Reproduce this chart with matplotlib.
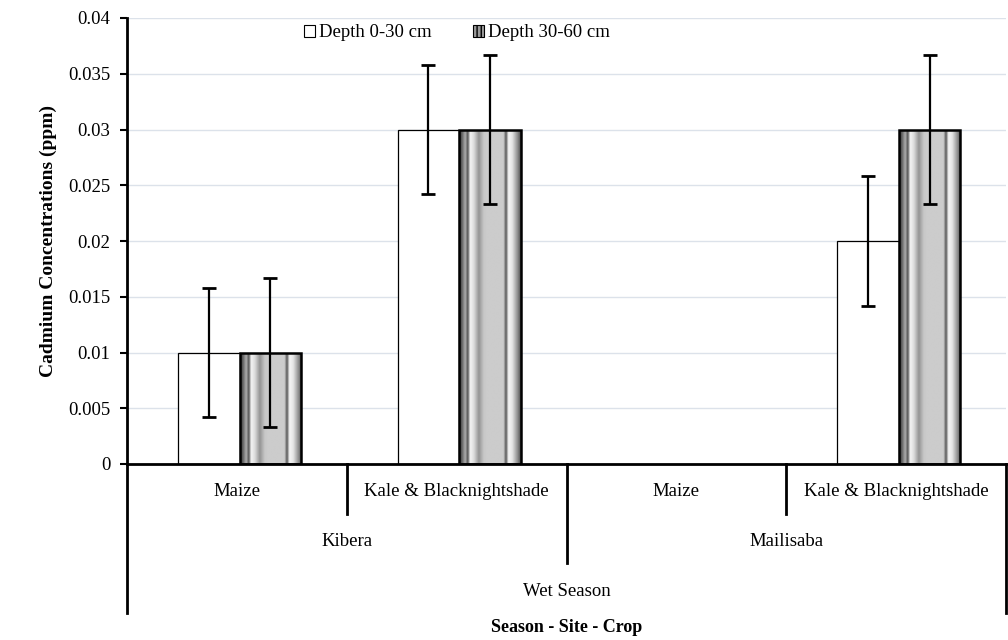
import numpy as np
import matplotlib
matplotlib.use("Agg")
import matplotlib.pyplot as plt
from matplotlib.patches import Rectangle
from matplotlib.ticker import FuncFormatter
from matplotlib.transforms import blended_transform_factory

plt.rcParams['font.family'] = ['Liberation Serif', 'DejaVu Serif']

# Data
crops = ["Maize", "Kale & Blacknightshade", "Maize", "Kale & Blacknightshade"]
sites = ["Kibera", "Mailisaba"]
season = "Wet Season"
series_names = ["Depth 0-30 cm", "Depth 30-60 cm"]
depth_0_30 = [0.01, 0.03, np.nan, 0.02]
depth_30_60 = [0.01, 0.03, np.nan, 0.03]
err_0_30 = [0.0058, 0.0058, np.nan, 0.0058]
err_30_60 = [0.0067, 0.0067, np.nan, 0.0067]
y_ticks = [0, 0.005, 0.01, 0.015, 0.02, 0.025, 0.03, 0.035, 0.04]

FS = 13.5

fig = plt.figure(figsize=(10.08, 6.4), dpi=100)
ax = fig.add_axes([127 / 1008, 1 - 464 / 640, 879 / 1008, 446 / 640])

x = np.arange(len(crops))
w = 0.28
shift = 0.012
x_a = x - w / 2 + shift
x_b = x + w / 2 + shift

# plain white bars
ax.bar(x_a, depth_0_30, width=w, facecolor="white", edgecolor="black",
       linewidth=0.9, zorder=3)

# striped (shaded cylinder look) bars
bars_b = ax.bar(x_b, depth_30_60, width=w, facecolor="none", edgecolor="black",
                linewidth=1.8, zorder=4)
prof_pts = np.array([
    [0.00, 0.25], [0.04, 0.35], [0.10, 0.68], [0.14, 0.32], [0.18, 0.96],
    [0.24, 0.86], [0.32, 0.58], [0.40, 0.78], [0.45, 0.80], [0.72, 0.80],
    [0.76, 0.33], [0.80, 0.96], [0.86, 0.90], [0.95, 0.55], [1.00, 0.30]])
u = np.linspace(0, 1, 200)
prof = np.interp(u, prof_pts[:, 0], prof_pts[:, 1])
img = np.tile(prof, (2, 1))
for rect in bars_b.patches:
    h = rect.get_height()
    if not np.isfinite(h) or h <= 0:
        continue
    x0 = rect.get_x()
    im = ax.imshow(img, cmap="gray", vmin=0, vmax=1, aspect="auto",
                   extent=(x0, x0 + rect.get_width(), 0, h), zorder=3.5,
                   interpolation="bilinear")
    clip = Rectangle((x0, 0), rect.get_width(), h, transform=ax.transData)
    im.set_clip_path(clip)

ax.errorbar(x_a, depth_0_30, yerr=err_0_30, fmt="none", ecolor="black",
            elinewidth=1.6, capsize=5, capthick=2, zorder=5)
ax.errorbar(x_b, depth_30_60, yerr=err_30_60, fmt="none", ecolor="black",
            elinewidth=1.6, capsize=5, capthick=2, zorder=5)

ax.set_xlim(-0.5, len(crops) - 0.5)
ax.set_ylim(0, 0.04)
ax.set_yticks(y_ticks)
ax.yaxis.set_major_formatter(FuncFormatter(lambda v, p: "%g" % v))
ax.yaxis.grid(True, color="#dce2ea", linewidth=1.0, zorder=0)
ax.set_axisbelow(True)
ax.set_xticks([])
ax.tick_params(axis="y", direction="out", length=5, width=1.5,
               labelsize=FS, pad=7)
for s in ["top", "right"]:
    ax.spines[s].set_visible(False)
ax.spines["left"].set_linewidth(2)
ax.spines["bottom"].set_linewidth(2)
ax.spines["bottom"].set_zorder(6)

ax.set_ylabel("Cadmium Concentrations (ppm)", fontsize=14,
              fontweight="bold", labelpad=8)

# multi-level category axis
tr = blended_transform_factory(ax.transData, ax.transAxes)
px = 1 / 446.0
line_kw = dict(color="black", linewidth=2, transform=tr, clip_on=False)
for xs, depth in [(-0.5, 149), (0.5, 50), (1.5, 99), (2.5, 50), (3.5, 149)]:
    ax.plot([xs, xs], [0, -depth * px], **line_kw)

for xi, name in zip(x, crops):
    ax.text(xi, -28 * px, name, transform=tr, ha="center", va="center",
            fontsize=FS)
for si, name in enumerate(sites):
    ax.text(2 * si + 0.5, -77 * px, name, transform=tr, ha="center",
            va="center", fontsize=FS)
ax.text(1.5, -127 * px, season, transform=tr, ha="center", va="center",
        fontsize=FS)
ax.text(1.5, -164 * px, "Season - Site - Crop", transform=tr, ha="center",
        va="center", fontsize=13, fontweight="bold")

# legend
h1 = Rectangle((0, 0), 1, 1, facecolor="white", edgecolor="black",
               linewidth=0.8)
h2 = Rectangle((0, 0), 1, 1, facecolor="#9a9a9a", edgecolor="black",
               linewidth=0.8, hatch="||||")
ax.legend([h1, h2], series_names, loc="center", bbox_to_anchor=(0.375, 0.967),
          ncol=2, frameon=False, fontsize=FS, handlelength=0.6,
          handleheight=0.6, handletextpad=0.2, columnspacing=2.2)

fig.savefig("out.png", dpi=100)
